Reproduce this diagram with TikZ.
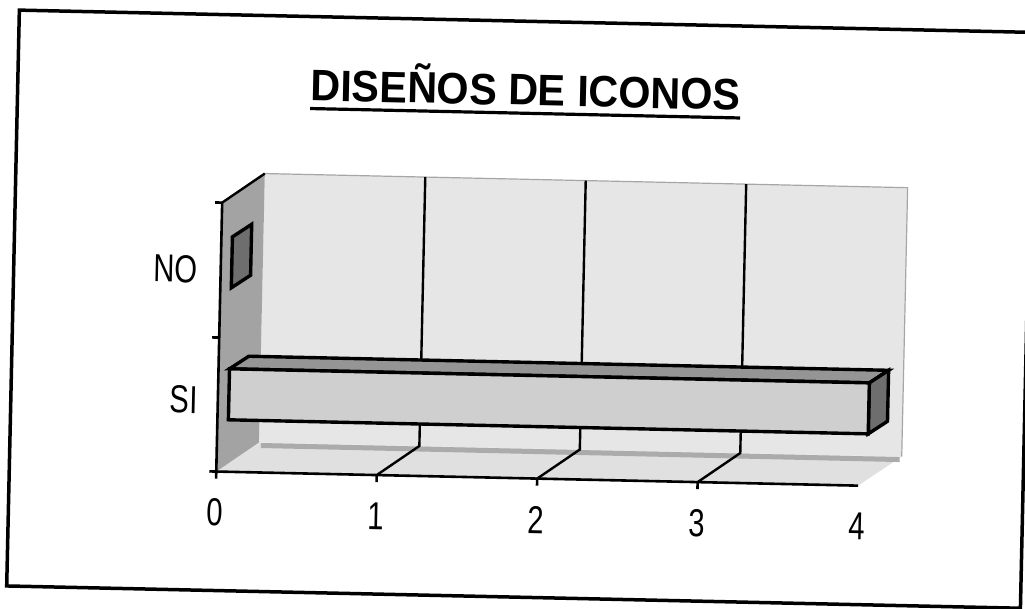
\documentclass[tikz,border=0pt]{standalone}
\usepackage{fontspec}
\setmainfont{Liberation Sans}
\usepackage{tikz}

\definecolor{wallgray}{HTML}{E6E6E6}
\definecolor{floorgray}{HTML}{E0E0E0}
\definecolor{bandgray}{HTML}{ABABAB}
\definecolor{sidegray}{HTML}{A3A3A3}
\definecolor{topgray}{HTML}{959595}
\definecolor{endgray}{HTML}{6E6E6E}
\definecolor{frontgray}{HTML}{CFCFCF}

\tikzset{
	frame line/.style={line width=3.5pt},
	axis line/.style={line width=2.6pt},
	grid line/.style={line width=2.4pt},
	bar edge/.style={line width=3.4pt, line join=miter},
	ticklabel/.style={font=\fontsize{39}{39}\selectfont, xscale=0.75, inner sep=0pt},
}

\begin{document}
\begin{tikzpicture}[x=1pt,y=-1pt]
	\useasboundingbox (0,0) rectangle (1025,608);
	\clip (0,0) rectangle (1025,608);
	\begin{scope}[rotate around={-1.26:(512,304)}, transform shape]
	\draw[frame line] (13,21) rectangle (1027,597);
	\node[inner sep=0pt, anchor=base, font=\bfseries\fontsize{44}{44}\selectfont, xscale=0.94] (title) at (521,105) {DISEÑOS DE ICONOS};
	\draw[line width=3.2pt] ([yshift=-8pt]title.base west) -- ([yshift=-8pt]title.base east);
	% walls and floor
	\fill[wallgray] (262,179) rectangle (905,448);
	\draw[gray!70, line width=1.2pt] (262,179) -- (905,179) -- (905,448);
	\fill[floorgray] (220,478) -- (862,478) -- (905,448) -- (262,448) -- cycle;
	\draw[bandgray, line width=5pt] (264,451) -- (903,451);
	\fill[sidegray] (220,209) -- (262,179) -- (262,448) -- (220,478) -- cycle;
	\draw[grid line] (220,209) -- (262,179);
	% grid
	\draw[grid line] (422.5,179) -- (422.5,448) -- (380.5,478);
	\draw[grid line] (583,179) -- (583,448) -- (541,478);
	\draw[grid line] (743.5,179) -- (743.5,448) -- (701.5,478);
	% axes
	\draw[axis line] (220,209) -- (220,478) -- (862,478);
	\draw[axis line] (213,209) -- (220,209);
	\draw[axis line] (213,344) -- (220,344);
	\draw[axis line] (213,478) -- (220,478) -- (220,485);
	\draw[axis line] (380.5,478) -- (380.5,485);
	\draw[axis line] (541,478) -- (541,485);
	\draw[axis line] (701.5,478) -- (701.5,485);
	% bars
	\filldraw[bar edge, fill=endgray] (231,243) -- (250,230) -- (250,281) -- (231,294) -- cycle;
	\filldraw[bar edge, fill=topgray] (231,375) -- (250,362) -- (890,362) -- (871,375) -- cycle;
	\filldraw[bar edge, fill=endgray] (871,375) -- (890,362) -- (890,413) -- (871,426) -- cycle;
	\filldraw[bar edge, fill=frontgray] (231,375) rectangle (871,426);
	% labels
	\node[ticklabel] (no) at (175,276) {NO};
	\node[ticklabel] (si) at (186,407) {SI};
	\node[ticklabel] (v0) at (220,519) {0};
	\node[ticklabel] (v1) at (380.5,519) {1};
	\node[ticklabel] (v2) at (541,519) {2};
	\node[ticklabel] (v3) at (701.5,519) {3};
	\node[ticklabel] (v4) at (862,519) {4};
	\end{scope}
\end{tikzpicture}
\end{document}
